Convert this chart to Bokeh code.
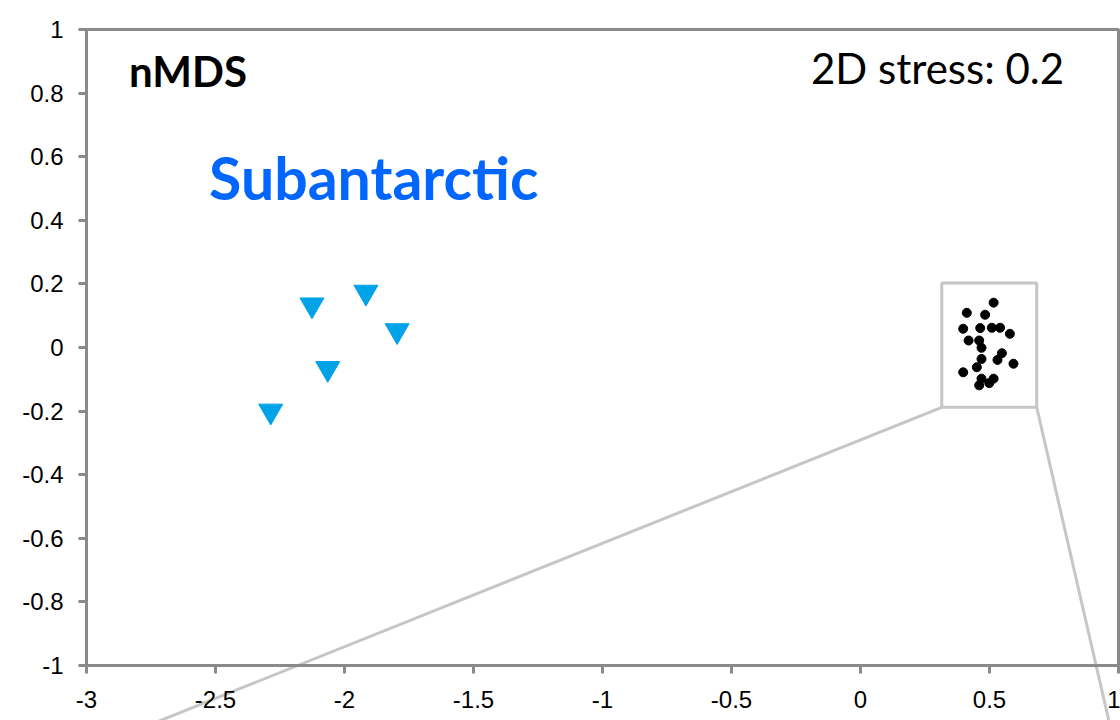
from bokeh.plotting import figure
from bokeh.models import Range1d, Label, NumeralTickFormatter, FixedTicker
from bokeh.embed import file_html
from bokeh.resources import INLINE

# nMDS ordination scores
sub_x = [-2.126, -1.917, -1.796, -2.065, -2.286]
sub_y = [0.134, 0.174, 0.053, -0.066, -0.200]

other_x = [0.516, 0.412, 0.483, 0.398, 0.464, 0.509, 0.541, 0.579, 0.419, 0.460, 0.469,
           0.548, 0.469, 0.531, 0.593, 0.451, 0.398, 0.469, 0.516, 0.460, 0.499]
other_y = [0.141, 0.109, 0.103, 0.059, 0.061, 0.062, 0.062, 0.043, 0.022, 0.022, -0.001,
           -0.018, -0.036, -0.039, -0.051, -0.062, -0.078, -0.098, -0.098, -0.119, -0.112]

# zoom box around the dense cluster (left, right, bottom, top) and callout line ends
box_x = [0.315, 0.683]
box_y = [-0.188, 0.203]
callout_x = [-3.11, 0.999]
callout_y = [-1.302, -1.302]

# axis limits of the plot area and the tick positions
x_lim = [-3, 1]
y_lim = [-1, 1]
x_ticks = [-3, -2.5, -2, -1.5, -1, -0.5, 0, 0.5, 1]
y_ticks = [-1, -0.8, -0.6, -0.4, -0.2, 0, 0.2, 0.4, 0.6, 0.8, 1]

AXIS_GREY = "#8a8a8a"
BOX_GREY = "#c6c6c6"

W, H = 1120, 720
# margins (px) around the plot area that hold the tick labels
M_LEFT, M_RIGHT, M_TOP, M_BOTTOM = 86, 2, 29, 55
x_per_px = (x_lim[1] - x_lim[0]) / (W - M_LEFT - M_RIGHT)
y_per_px = (y_lim[1] - y_lim[0]) / (H - M_TOP - M_BOTTOM)

# the frame fills the whole canvas so the callout lines can run past the plot area;
# the axes are pinned to the plot area's edges
p = figure(width=W, height=H, output_backend="svg", toolbar_location=None,
           x_range=Range1d(x_lim[0] - M_LEFT * x_per_px, x_lim[1] + M_RIGHT * x_per_px),
           y_range=Range1d(y_lim[0] - M_BOTTOM * y_per_px, y_lim[1] + M_TOP * y_per_px),
           min_border=0)
p.background_fill_color = "white"
p.border_fill_color = "white"
p.grid.visible = False
p.outline_line_color = None

p.xaxis.fixed_location = y_lim[0]
p.yaxis.fixed_location = x_lim[0]
p.xaxis.bounds = (x_lim[0], x_lim[1])
p.yaxis.bounds = (y_lim[0], y_lim[1])

for ax, ticks in ((p.xaxis, x_ticks), (p.yaxis, y_ticks)):
    ax.ticker = FixedTicker(ticks=ticks)
    ax.formatter = NumeralTickFormatter(format="0.[0]")
    ax.axis_line_color = AXIS_GREY
    ax.axis_line_width = 3
    ax.major_tick_line_color = AXIS_GREY
    ax.major_tick_line_width = 3
    ax.major_tick_in = 0
    ax.major_tick_out = 8
    ax.minor_tick_line_color = None
    ax.major_label_text_font = "Liberation Sans"
    ax.major_label_text_font_size = "24px"
    ax.major_label_text_color = "black"
p.xaxis.major_label_standoff = 17
p.yaxis.major_label_standoff = 15

# tick labels sit on a white box, so the callout line passes behind them
if "major_label_background_fill_color" in p.xaxis[0].properties():
    p.xaxis.major_label_background_fill_color = "white"

# callout lines from the zoom box, then the box itself
p.multi_line(xs=[[callout_x[0], box_x[0]], [box_x[1], callout_x[1]]],
             ys=[[callout_y[0], box_y[0]], [box_y[0], callout_y[1]]],
             line_color=BOX_GREY, line_width=3)
p.quad(left=[box_x[0]], right=[box_x[1]], bottom=[box_y[0]], top=[box_y[1]],
       fill_alpha=0, line_color=BOX_GREY, line_width=3)

# plot area border
p.quad(left=[x_lim[0]], right=[x_lim[1]], bottom=[y_lim[0]], top=[y_lim[1]],
       fill_alpha=0, line_color=AXIS_GREY, line_width=3)

p.scatter(other_x, other_y, marker="circle", size=9, color="black")
p.scatter(sub_x, sub_y, marker="inverted_triangle", size=24, color="#00a2e8")

p.add_layout(Label(x=-2.835, y=0.870, text="nMDS", text_font="Lato", text_font_style="bold",
                   text_font_size="42px", text_color="black", text_baseline="alphabetic"))
p.add_layout(Label(x=0.789, y=0.879, text="2D stress: 0.2", text_font="Lato",
                   text_font_size="42px", text_color="black", text_align="right",
                   text_baseline="alphabetic"))
p.add_layout(Label(x=-2.525, y=0.534, text="Subantarctic", text_font="Lato", text_font_style="bold",
                   text_font_size="59px", text_color="#0066ff", text_baseline="alphabetic"))

open("out.html", "w").write(file_html(p, INLINE))
